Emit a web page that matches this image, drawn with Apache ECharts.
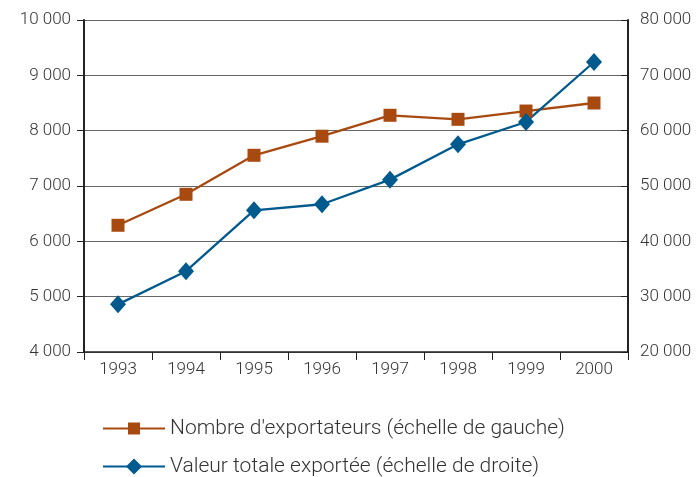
<!DOCTYPE html>
<html><head><meta charset="utf-8">
<script src="https://cdn.jsdelivr.net/npm/echarts@6/dist/echarts.min.js"></script>
<style>html,body{margin:0;padding:0;background:#fff}#c{width:698px;height:477px}</style>
</head><body><div id="c"></div>
<script>
const categories = ['1993','1994','1995','1996','1997','1998','1999','2000'];
const exportateurs = [6290, 6850, 7555, 7900, 8278, 8205, 8355, 8500];
const valeurTotale = [28610, 34600, 45600, 46700, 51150, 57530, 61570, 72410];
const seriesNames = ["Nombre d'exportateurs (échelle de gauche)", "Valeur totale exportée (échelle de droite)"];
const fmt = v => String(v).replace(/\B(?=(\d{3})+(?!\d))/g, ' ');
const FONT = 'Roboto';
const legendText = {fontFamily: FONT, fontSize: 21, fontWeight: 300, color: '#333', padding: [0, 0, 8, 0]};
const chart = echarts.init(document.getElementById('c'));
chart.setOption({
  animation: false,
  textStyle: {fontFamily: FONT},
  grid: {left: 84, right: 70, top: 20, bottom: 125},
  legend: [{
    left: 102, top: 418, itemGap: 0, padding: 0,
    itemWidth: 62, itemHeight: 15, textStyle: legendText,
    data: [seriesNames[0]]
  }, {
    left: 102, top: 456, itemGap: 0, padding: 0,
    itemWidth: 62, itemHeight: 20, textStyle: legendText,
    data: [seriesNames[1]]
  }],
  xAxis: {
    type: 'category', data: categories, boundaryGap: true,
    axisLine: {lineStyle: {color: '#222', width: 1.5}},
    axisTick: {show: true, length: 8, lineStyle: {color: '#222'}},
    axisLabel: {fontFamily: FONT, fontSize: 17, fontWeight: 300, color: '#333', margin: 9}
  },
  yAxis: [{
    type: 'value', min: 4000, max: 10000, interval: 1000,
    axisLine: {show: true, lineStyle: {color: '#222', width: 2}},
    axisTick: {show: true, length: 7, lineStyle: {color: '#222'}},
    axisLabel: {fontFamily: FONT, fontSize: 17, fontWeight: 300, color: '#333', margin: 13, formatter: fmt},
    splitLine: {lineStyle: {color: '#666', width: 1}}
  }, {
    type: 'value', min: 20000, max: 80000, interval: 10000,
    axisLine: {show: true, lineStyle: {color: '#222', width: 2}},
    axisTick: {show: true, inside: true, length: 7, lineStyle: {color: '#222'}},
    axisLabel: {fontFamily: FONT, fontSize: 17, fontWeight: 300, color: '#333', margin: 12, formatter: fmt},
    splitLine: {show: false}
  }],
  series: [{
    name: seriesNames[0], type: 'line', yAxisIndex: 0, data: exportateurs,
    symbol: 'rect', symbolSize: 13,
    lineStyle: {color: '#A84A10', width: 2.3},
    itemStyle: {color: '#A84A10'}
  }, {
    name: seriesNames[1], type: 'line', yAxisIndex: 1, data: valeurTotale,
    symbol: 'diamond', symbolSize: [16, 18],
    lineStyle: {color: '#005A8E', width: 2.3},
    itemStyle: {color: '#005A8E'}
  }]
});
</script></body></html>
